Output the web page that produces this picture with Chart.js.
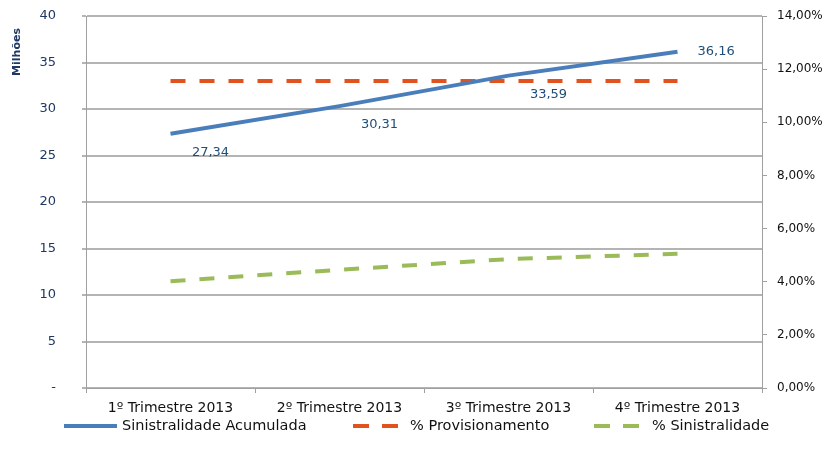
<!DOCTYPE html>
<html><head><meta charset="utf-8">
<script src="https://cdn.jsdelivr.net/npm/chart.js@4"></script>
<style>html,body{margin:0;padding:0;background:#fff}#wrap{width:838px;height:465px;position:relative}</style>
</head><body><div id="wrap"><canvas id="c" width="838" height="465"></canvas></div>
<script>
const categories = ["1º Trimestre 2013","2º Trimestre 2013","3º Trimestre 2013","4º Trimestre 2013"];
const sinistralidadeAcumulada = [27.34, 30.31, 33.59, 36.16];
const provisionamento = [11.55, 11.55, 11.55, 11.55];
const sinistralidade = [4.02, 4.45, 4.85, 5.05];
const leftTicks = [0,5,10,15,20,25,30,35,40];
const rightTicks = [0,2,4,6,8,10,12,14];
const seriesNames = ["Sinistralidade Acumulada","% Provisionamento","% Sinistralidade"];
const colors = ["#4a7ebb","#e0531f","#9bbb59"];
const FONT = "'DejaVu Sans',sans-serif";

const labelPlugin = {
  id:'labels',
  afterDatasetsDraw(chart){
    const ctx = chart.ctx;
    const meta = chart.getDatasetMeta(0);
    ctx.save();
    ctx.font = "13px " + FONT;
    ctx.fillStyle = "#1f4e79";
    ctx.textBaseline = "middle";
    meta.data.forEach((p,i)=>{
      const txt = sinistralidadeAcumulada[i].toFixed(2).replace('.',',');
      if(i === meta.data.length-1){ ctx.textAlign='left'; ctx.fillText(txt, p.x+20, p.y); }
      else { ctx.textAlign='center'; ctx.fillText(txt, p.x+40, p.y+19); }
    });
    ctx.save();
    ctx.translate(17, 52);
    ctx.rotate(-Math.PI/2);
    ctx.font = "bold 11px " + FONT;
    ctx.fillStyle = "#1f3864";
    ctx.textAlign='center';
    ctx.fillText("Milhões",0,0);
    ctx.restore();
    const y = 426;
    const items = [
      {segs:[[64,117]], tx:122},
      {segs:[[353,369],[382,398]], tx:410},
      {segs:[[594,610],[623,639]], tx:652}
    ];
    items.forEach((it,i)=>{
      ctx.lineWidth = 4;
      ctx.strokeStyle = colors[i];
      it.segs.forEach(s=>{ ctx.beginPath(); ctx.moveTo(s[0],y); ctx.lineTo(s[1],y); ctx.stroke(); });
      ctx.font = "14.5px " + FONT;
      ctx.fillStyle = "#111";
      ctx.textAlign='left';
      ctx.fillText(seriesNames[i], it.tx, y);
    });
    ctx.restore();
  }
};

new Chart(document.getElementById('c'), {
  type:'line',
  data:{
    labels:categories,
    datasets:[
      {label:seriesNames[0], data:sinistralidadeAcumulada, yAxisID:'y', borderColor:colors[0], borderWidth:4, pointRadius:0, tension:0, order:1},
      {label:seriesNames[1], data:provisionamento, yAxisID:'y1', borderColor:colors[1], borderWidth:4, borderDash:[15,14], pointRadius:0, tension:0, order:2},
      {label:seriesNames[2], data:sinistralidade, yAxisID:'y1', borderColor:colors[2], borderWidth:4, borderDash:[15,14], pointRadius:0, tension:0, order:3}
    ]
  },
  options:{
    responsive:false, animation:false,
    layout:{padding:{top:16,bottom:45,left:0,right:0}},
    plugins:{legend:{display:false}, tooltip:{enabled:false}},
    scales:{
      x:{
        offset:true,
        grid:{display:true, drawOnChartArea:false, offset:true, tickLength:5, color:'#a0a0a0'},
        border:{color:'#a0a0a0', width:1},
        ticks:{font:{size:14, family:FONT}, color:'#111', padding:7, maxRotation:0},
        afterFit(s){ s.height = 32; s.paddingLeft = 0; s.paddingRight = 0; }
      },
      y:{
        position:'left', min:0, max:40,
        afterBuildTicks(s){ s.ticks = leftTicks.map(v=>({value:v})); },
        ticks:{font:{size:13, family:FONT}, color:'#1f3864', padding:26, callback:v=> v===0 ? '-' : String(v)},
        grid:{color:'#b4b4b4', lineWidth:2, tickLength:4},
        border:{color:'#a0a0a0', width:1},
        afterFit(s){ s.width = 86; s.paddingTop = 0; s.paddingBottom = 0; }
      },
      y1:{
        position:'right', min:0, max:14,
        afterBuildTicks(s){ s.ticks = rightTicks.map(v=>({value:v})); },
        ticks:{font:{size:12, family:FONT}, color:'#111', padding:10, callback:v=> v.toFixed(2).replace('.',',')+'%'},
        grid:{drawOnChartArea:false, tickLength:5, color:'#a0a0a0'},
        border:{color:'#a0a0a0', width:1},
        afterFit(s){ s.width = 76; s.paddingTop = 0; s.paddingBottom = 0; }
      }
    }
  },
  plugins:[labelPlugin]
});
</script></body></html>
